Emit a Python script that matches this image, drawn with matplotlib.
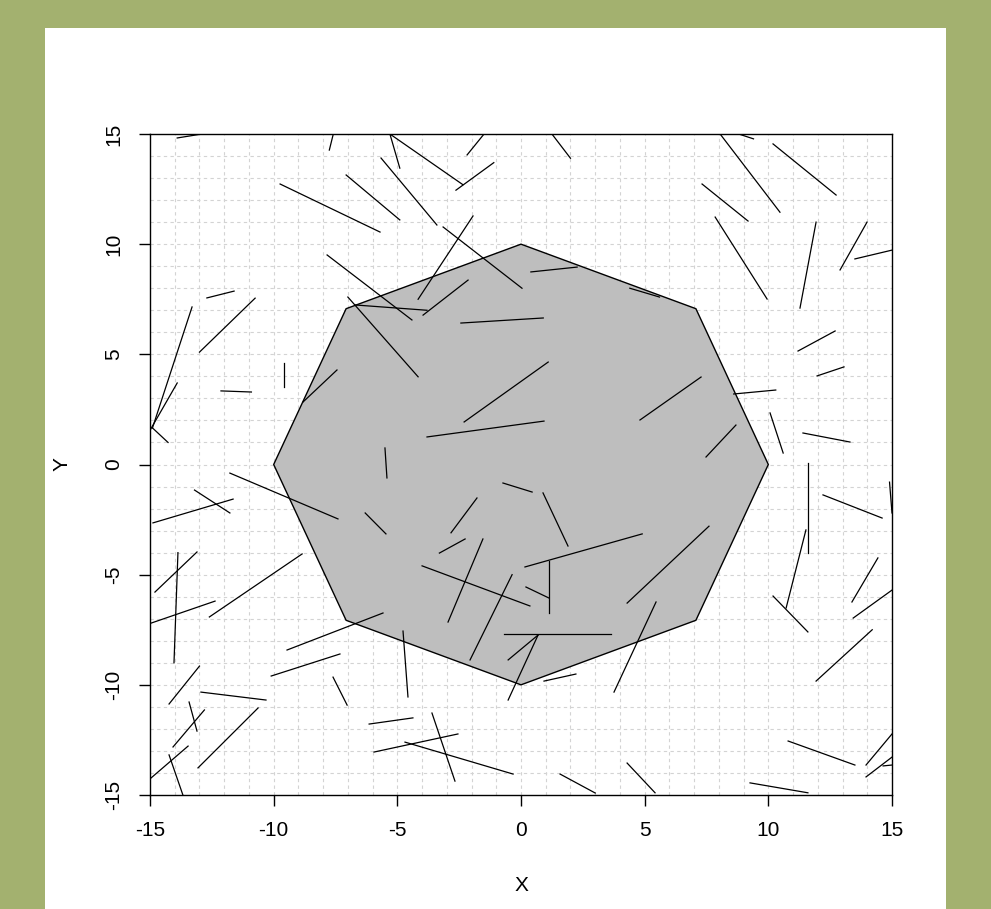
import numpy as np
import matplotlib
matplotlib.use("Agg")
import matplotlib.pyplot as plt
from matplotlib.patches import Rectangle

plt.rcParams['font.family'] = ['Liberation Sans', 'DejaVu Sans']
plt.rcParams['axes.unicode_minus'] = False

# octagon of radius 10
n_sides = 8
radius = 10

# random sticks: start and end points
x0 = [-13.9, -7.75, -9.74, -7.07, -5.66, -5.3, -7.84, -7.0, -12.7, -13.3, -13.9, -14.9, -13.0,
      -5.3, -2.63, -1.53, 1.25, -1.94, -3.15, -6.7, -3.96, -2.43, 0.4, 4.4,
      8.05, 8.8, 10.19, 7.32, 7.85, 11.93, 13.99, 13.5, 11.2,
      -9.58, -12.13, -7.44, -5.5, -11.77, -13.2, -14.88, -6.3, -13.87, -13.1, -8.85,
      -2.3, -3.8, -0.73, 0.89, -1.78, -2.26, -1.54, -4.0, 0.16, 1.13, -0.36,
      7.28, 8.69, 8.6, 10.07, 11.97, 11.4, 11.6, 12.21, 14.9, 11.52, 14.43, 7.6,
      -14.96, -13.0, -12.94, -13.42, -12.8, -13.46, -14.23, -10.63, -9.46, -10.1, -7.6, -6.14, -5.94,
      -4.77, -0.69, 0.69, 0.69, 0.2, 0.93, 5.46, -3.6, -4.69, 1.58, 4.29,
      10.19, 15.0, 14.2, 10.8, 15.0, 15.0, 14.64, 9.26]
y0 = [14.82, 14.27, 12.73, 13.14, 13.91, 15.0, 9.51, 7.6, 7.56, 7.15, 3.7, 1.66, 5.1,
      15.0, 12.45, 14.95, 15.0, 11.28, 10.78, 7.24, 6.78, 6.42, 8.74, 8.0,
      15.0, 15.0, 14.55, 12.73, 11.23, 11.0, 11.0, 9.33, 5.15,
      4.6, 3.34, 4.29, 0.75, -0.39, -1.16, -2.65, -2.2, -4.0, -3.97, -4.06,
      1.93, 1.25, -0.84, -1.29, -1.52, -3.38, -3.38, -4.6, -4.65, -4.38, -5.0,
      3.97, 1.79, 3.2, 2.34, 4.02, 1.43, 0.07, -1.38, -0.8, -2.97, -4.24, -2.8,
      -7.2, -9.15, -10.33, -10.78, -11.14, -12.78, -13.18, -11.05, -8.42, -9.6, -9.65, -11.78, -13.05,
      -7.56, -7.69, -7.74, -7.74, -5.56, -9.83, -6.24, -11.28, -12.6, -14.05, -13.55,
      -5.97, -5.7, -7.5, -12.55, -12.23, -13.28, -13.68, -14.45]
x1 = [-12.9, -7.6, -5.7, -4.9, -3.4, -4.9, -4.41, -4.16, -11.6, -14.9, -15.0, -14.27, -10.75,
      -2.35, -1.1, -2.18, 2.0, -4.16, 0.04, -3.8, -2.14, 0.9, 2.27, 5.6,
      10.47, 9.4, 12.74, 9.18, 9.95, 11.28, 12.9, 15.0, 12.7,
      -9.58, -10.9, -8.81, -5.42, -7.4, -11.77, -11.64, -5.46, -14.03, -14.8, -12.6,
      1.1, 0.93, 0.45, 1.9, -2.83, -3.3, -2.95, 0.36, 4.9, 1.13, -2.06,
      4.81, 7.48, 10.3, 10.6, 13.06, 13.3, 11.6, 14.6, 15.0, 10.72, 13.38, 4.29,
      -12.37, -14.23, -10.31, -13.1, -14.07, -14.96, -13.67, -13.06, -5.58, -7.32, -7.03, -4.37, -2.55,
      -4.57, 3.64, -0.52, -0.52, 1.13, 2.22, 3.76, -2.67, -0.32, 3.0, 5.42,
      11.6, 13.43, 11.93, 13.5, 13.95, 13.95, 15.0, 11.6]
y1 = [15.0, 14.95, 10.55, 11.1, 10.87, 13.45, 6.56, 3.98, 7.87, 1.66, 1.55, 1.0, 7.55,
      12.7, 13.7, 14.05, 13.9, 7.5, 8.0, 7.0, 8.37, 6.65, 8.96, 7.6,
      11.45, 14.78, 12.23, 11.05, 7.51, 7.1, 8.83, 9.73, 6.06,
      3.52, 3.29, 2.84, -0.61, -2.47, -2.2, -1.57, -3.15, -9.0, -5.79, -6.92,
      4.65, 1.97, -1.25, -3.7, -3.1, -4.02, -7.15, -6.42, -3.15, -6.74, -8.87,
      2.02, 0.34, 3.38, 0.52, 4.43, 1.02, -4.0, -2.43, -2.2, -6.51, -6.24, -6.29,
      -6.2, -10.87, -10.69, -12.1, -12.82, -14.23, -15.0, -13.77, -6.74, -8.6, -10.92, -11.5, -12.23,
      -10.55, -7.69, -8.87, -10.69, -6.06, -9.51, -10.33, -14.37, -14.05, -14.91, -14.9,
      -7.6, -6.97, -9.83, -13.64, -13.64, -14.18, -13.64, -14.9]

x_ticks = [-15, -10, -5, 0, 5, 10, 15]
y_ticks = [-15, -10, -5, 0, 5, 10, 15]

fig = plt.figure(figsize=(9.91, 9.09), dpi=100)
fig.patch.set_facecolor("#a3b16f")
# white panel behind the plot
fig.patches.append(Rectangle((45 / 991, 0), 901 / 991, 881 / 909,
                             transform=fig.transFigure, facecolor="white",
                             edgecolor="none", zorder=-10))

ax = fig.add_axes([150 / 991, 114 / 909, 742 / 991, 661 / 909])
ax.set_xlim(-15, 15)
ax.set_ylim(-15, 15)

# dotted grid at every unit
for v in range(-14, 15):
    ax.axvline(v, color="#d3d3d3", lw=0.8, ls=(0, (3, 3)), zorder=1)
    ax.axhline(v, color="#d3d3d3", lw=0.8, ls=(0, (3, 3)), zorder=1)

ang = np.arange(n_sides) * 2 * np.pi / n_sides
ax.fill(radius * np.cos(ang), radius * np.sin(ang), facecolor="#bebebe",
        edgecolor="black", lw=1.0, zorder=2)

for a, b, c, d in zip(x0, y0, x1, y1):
    ax.plot([a, c], [b, d], color="black", lw=0.9, zorder=3)

ax.set_xticks(x_ticks)
ax.set_yticks(y_ticks)
ax.tick_params(direction="out", length=8, width=1, labelsize=15, pad=11)
for lab in ax.get_yticklabels():
    lab.set_rotation(90)
    lab.set_va("center")
for s in ax.spines.values():
    s.set_linewidth(1.0)

ax.set_xlabel("X", fontsize=15)
ax.set_ylabel("Y", fontsize=15)
ax.xaxis.set_label_coords(0.5, (795 - 876) / 661)
ax.yaxis.set_label_coords((72 - 150) / 742, 0.5)

fig.savefig("out.png", dpi=100, facecolor=fig.get_facecolor())
